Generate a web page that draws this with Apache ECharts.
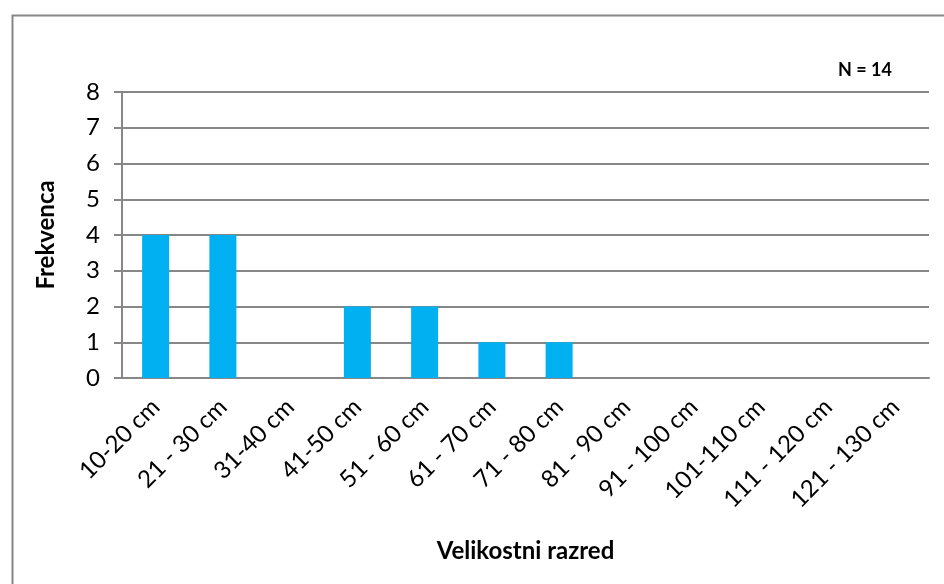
<!DOCTYPE html>
<html>
<head>
<meta charset="utf-8">
<script src="https://cdn.jsdelivr.net/npm/echarts@6/dist/echarts.min.js"></script>
<style>
  html, body { margin: 0; padding: 0; background: #fff; }
  #chart { width: 944px; height: 584px; }
</style>
</head>
<body>
<div id="chart"></div>
<script>
  const categories = ['10-20 cm', '21 - 30 cm', '31-40 cm', '41-50 cm', '51 - 60 cm', '61 - 70 cm',
    '71 - 80 cm', '81 - 90 cm', '91 - 100 cm', '101-110 cm', '111 - 120 cm', '121 - 130 cm']
  const frequencies = [4, 4, 0, 2, 2, 1, 1, 0, 0, 0, 0, 0]

  const font = 'Lato, "Open Sans", sans-serif'
  const gray = '#878787'

  const chart = echarts.init(document.getElementById('chart'))
  chart.setOption({
    animation: false,
    graphic: [
      { type: 'rect', left: 10, top: 13, shape: { width: 950, height: 600 },
        style: { fill: 'none', stroke: gray, lineWidth: 2 }, silent: true },
      { type: 'text', left: 838, top: 61,
        style: { text: 'N = 14', font: 'bold 18px ' + font, fill: '#000' } }
    ],
    grid: { left: 122, right: 15, top: 92, bottom: 206 },
    xAxis: {
      type: 'category',
      data: categories,
      name: 'Velikostni razred',
      nameLocation: 'middle',
      nameGap: 161,
      nameTextStyle: { fontFamily: font, fontWeight: 'bold', fontSize: 24, color: '#000' },
      axisLine: { lineStyle: { color: gray, width: 2 } },
      axisTick: { length: 6, lineStyle: { color: gray, width: 2 } },
      axisLabel: { rotate: 45, interval: 0, margin: 25, fontFamily: font, fontSize: 24, color: '#000' }
    },
    yAxis: {
      type: 'value',
      min: 0,
      max: 8,
      interval: 1,
      name: 'Frekvenca',
      nameLocation: 'middle',
      nameGap: 64,
      nameRotate: 90,
      nameTextStyle: { fontFamily: font, fontWeight: 'bold', fontSize: 24, color: '#000' },
      axisLine: { show: true, lineStyle: { color: gray, width: 2 } },
      axisTick: { show: true, length: 8, lineStyle: { color: gray, width: 2 } },
      axisLabel: { margin: 22, fontFamily: font, fontSize: 24, color: '#000' },
      splitLine: { lineStyle: { color: gray, width: 2 } }
    },
    series: [{
      type: 'bar',
      data: frequencies,
      barWidth: 27,
      itemStyle: { color: '#00B0F0' }
    }]
  })
</script>
</body>
</html>
